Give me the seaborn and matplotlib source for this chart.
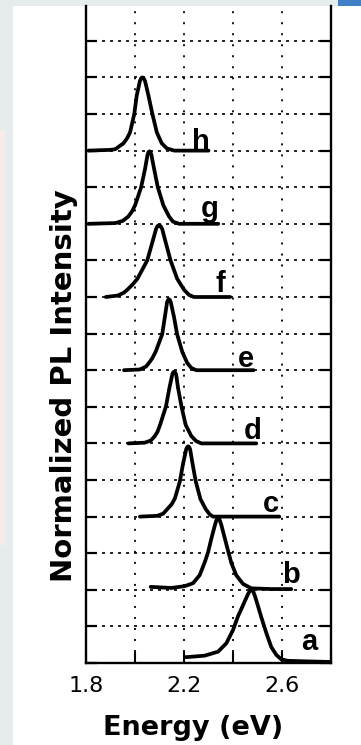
import matplotlib
matplotlib.use("Agg")
import matplotlib.pyplot as plt
from matplotlib.patches import Rectangle
import seaborn as sns
import pandas as pd

# ---- data ----
samples = ["a", "b", "c", "d", "e", "f", "g", "h"]
offsets = [0, 2, 4, 6, 8, 10, 12, 14]

energy_a = [2.203, 2.284, 2.339, 2.373, 2.400, 2.420, 2.441, 2.461, 2.469, 2.476, 2.483, 2.490, 2.500, 2.516, 2.536, 2.556, 2.577, 2.597, 2.624, 2.693, 2.799]
intens_a = [0.078, 0.10, 0.155, 0.27, 0.45, 0.635, 0.79, 0.94, 0.985, 1.0, 0.975, 0.91, 0.80, 0.62, 0.41, 0.22, 0.11, 0.05, 0.03, 0.023, 0.014]

energy_b = [2.064, 2.148, 2.203, 2.237, 2.264, 2.284, 2.298, 2.311, 2.325, 2.333, 2.339, 2.345, 2.352, 2.366, 2.380, 2.393, 2.413, 2.441, 2.475, 2.556, 2.638]
intens_b = [0.04, 0.025, 0.05, 0.09, 0.20, 0.37, 0.51, 0.69, 0.87, 0.96, 0.99, 0.96, 0.89, 0.71, 0.53, 0.37, 0.20, 0.08, 0.02, 0.01, 0.01]

energy_c = [2.020, 2.090, 2.115, 2.131, 2.150, 2.163, 2.183, 2.196, 2.209, 2.213, 2.217, 2.221, 2.225, 2.235, 2.248, 2.267, 2.289, 2.305, 2.318, 2.400, 2.589]
intens_c = [0.0, 0.01, 0.04, 0.10, 0.17, 0.25, 0.48, 0.72, 0.92, 0.95, 0.96, 0.95, 0.92, 0.72, 0.48, 0.24, 0.10, 0.03, 0.0, 0.0, 0.0]

energy_d = [1.973, 2.040, 2.065, 2.081, 2.092, 2.102, 2.126, 2.140, 2.152, 2.156, 2.160, 2.164, 2.168, 2.176, 2.190, 2.207, 2.230, 2.250, 2.271, 2.350, 2.495]
intens_d = [0.0, 0.01, 0.04, 0.10, 0.16, 0.25, 0.50, 0.75, 0.94, 0.97, 0.98, 0.97, 0.94, 0.75, 0.50, 0.25, 0.10, 0.03, 0.0, 0.0, 0.0]

energy_e = [1.955, 2.020, 2.045, 2.057, 2.070, 2.084, 2.111, 2.122, 2.131, 2.135, 2.138, 2.142, 2.146, 2.159, 2.172, 2.193, 2.213, 2.230, 2.250, 2.350, 2.484]
intens_e = [0.0, 0.01, 0.05, 0.10, 0.16, 0.25, 0.49, 0.73, 0.93, 0.96, 0.97, 0.96, 0.93, 0.73, 0.49, 0.25, 0.10, 0.03, 0.0, 0.0, 0.0]

energy_f = [1.881, 1.930, 1.955, 1.969, 1.990, 2.010, 2.050, 2.071, 2.086, 2.092, 2.098, 2.104, 2.111, 2.125, 2.145, 2.172, 2.200, 2.220, 2.240, 2.300, 2.389]
intens_f = [0.0, 0.02, 0.06, 0.10, 0.17, 0.25, 0.50, 0.75, 0.93, 0.97, 0.98, 0.97, 0.93, 0.75, 0.50, 0.25, 0.10, 0.03, 0.0, 0.0, 0.0]

energy_g = [1.810, 1.920, 1.950, 1.973, 1.988, 2.000, 2.025, 2.041, 2.051, 2.055, 2.059, 2.063, 2.067, 2.078, 2.093, 2.116, 2.139, 2.155, 2.180, 2.250, 2.340]
intens_g = [0.0, 0.01, 0.04, 0.10, 0.17, 0.25, 0.50, 0.75, 0.94, 0.98, 0.99, 0.98, 0.94, 0.75, 0.50, 0.25, 0.10, 0.03, 0.0, 0.0, 0.0]

energy_h = [1.810, 1.900, 1.920, 1.953, 1.968, 1.980, 1.997, 2.007, 2.020, 2.025, 2.030, 2.035, 2.041, 2.055, 2.071, 2.089, 2.109, 2.130, 2.160, 2.220, 2.300]
intens_h = [0.0, 0.01, 0.02, 0.10, 0.17, 0.25, 0.50, 0.75, 0.95, 0.99, 1.0, 0.99, 0.95, 0.75, 0.50, 0.25, 0.10, 0.03, 0.0, 0.0, 0.0]

xtick_values = [1.8, 2.0, 2.2, 2.4, 2.6, 2.8]
xtick_labels = ["1.8", "", "2.2", "", "2.6", ""]

# label placement (energy, level) for the sample letters
label_energy = [2.713, 2.638, 2.556, 2.482, 2.451, 2.347, 2.304, 2.268]
label_level = [0.36, 2.19, 4.13, 6.12, 8.10, 10.14, 12.19, 14.02]

energies = [energy_a, energy_b, energy_c, energy_d, energy_e, energy_f, energy_g, energy_h]
intensities = [intens_a, intens_b, intens_c, intens_d, intens_e, intens_f, intens_g, intens_h]

rows = []
for s, off, en, it in zip(samples, offsets, energies, intensities):
    for k, (x, y) in enumerate(zip(en, it)):
        rows.append({"sample": s, "order": k, "energy": x, "signal": off + 2.0 * y})
df = pd.DataFrame(rows)

# ---- figure ----
sns.set_style("ticks")
plt.rcParams["font.family"] = ["DejaVu Sans"]
plt.rcParams["text.color"] = "black"
plt.rcParams["axes.labelcolor"] = "black"

W, H = 361, 745
fig = plt.figure(figsize=(W / 100, H / 100), dpi=100, facecolor="#e6ecee")
fig.add_artist(Rectangle((13 / W, 0), 1, (H - 6) / H, transform=fig.transFigure,
                         facecolor="white", edgecolor="none", zorder=-2))
fig.add_artist(Rectangle((0, (H - 545) / H), 5 / W, 415 / H, transform=fig.transFigure,
                         facecolor="#f6ede8", edgecolor="none", zorder=-2))
fig.add_artist(Rectangle((338 / W, (H - 6) / H), 23 / W, 6 / H, transform=fig.transFigure,
                         facecolor="#3f7fc6", edgecolor="none", zorder=-2))

ax_left, ax_right, ax_bottom, ax_top = 86, 331, 663, 6
ax = fig.add_axes([ax_left / W, (H - ax_bottom) / H, (ax_right - ax_left) / W,
                   (ax_bottom - ax_top) / H])
ax.set_facecolor("white")

sns.lineplot(data=df, x="energy", y="signal", units="sample", estimator=None,
             sort=False, color="black", linewidth=2.7, ax=ax, legend=False)

ax.set_xlim(1.8, 2.8)
ax.set_ylim(0, (ax_bottom - ax_top) / 36.6)
ax.set_xticks(xtick_values)
ax.set_xticklabels(xtick_labels)
ax.set_yticks(range(0, 18))
ax.tick_params(axis="x", direction="in", length=8, width=1.5, pad=9,
               labelsize=16, colors="black", labelcolor="black")
ax.tick_params(axis="y", direction="in", length=8, width=1.6, left=True,
               right=True, labelleft=False, colors="black")

ax.xaxis.grid(True, color="black", linewidth=1.3, linestyle=(0, (1.1, 5.0)))
ax.yaxis.grid(True, color="black", linewidth=1.2, linestyle=(0, (1.8, 3.0)))
ax.set_axisbelow(True)

for side in ["left", "right", "bottom"]:
    ax.spines[side].set_linewidth(1.7)
    ax.spines[side].set_color("black")
ax.spines["top"].set_visible(False)

for s, xe, yl in zip(samples, label_energy, label_level):
    ax.text(xe, yl, s, ha="center", va="baseline", fontsize=21, color="black",
            fontweight="bold", family=["Liberation Sans", "DejaVu Sans"])

ax.set_xlabel("Energy (eV)", fontsize=19.5, fontweight="bold", color="black")
ax.xaxis.label.set_va("baseline")
ax.xaxis.set_label_coords((193 - ax_left) / (ax_right - ax_left),
                          (ax_bottom - 735) / (ax_bottom - ax_top))
ax.set_ylabel("Normalized PL Intensity", fontsize=21, fontweight="bold", color="black")
ax.yaxis.label.set_va("center")
ax.yaxis.set_label_coords((64 - ax_left) / (ax_right - ax_left),
                          (ax_bottom - 385.5) / (ax_bottom - ax_top))

fig.savefig("out.png", dpi=100, facecolor=fig.get_facecolor())
